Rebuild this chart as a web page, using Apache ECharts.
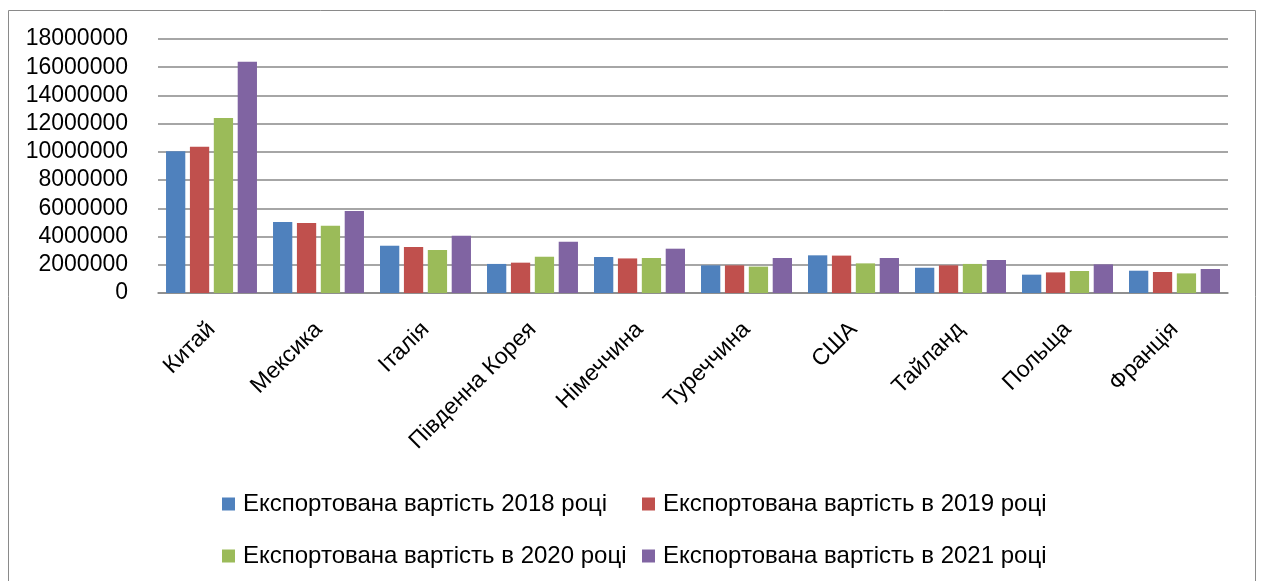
<!DOCTYPE html>
<html>
<head>
<meta charset="utf-8">
<script src="https://cdn.jsdelivr.net/npm/echarts@6/dist/echarts.min.js"></script>
<style>
html,body{margin:0;padding:0;background:#fff;}
#chart{width:1261px;height:581px;}
</style>
</head>
<body>
<div id="chart"></div>
<script>
const categories = ['Китай','Мексика','Італія','Південна Корея','Німеччина','Туреччина','США','Тайланд','Польща','Франція'];
const seriesNames = ['Експортована вартість 2018 році','Експортована вартість в 2019 році','Експортована вартість в 2020 році','Експортована вартість в 2021 році'];
const v2018 = [10050000, 5030000, 3350000, 2060000, 2550000, 1960000, 2670000, 1790000, 1300000, 1580000];
const v2019 = [10370000, 4960000, 3260000, 2150000, 2450000, 1960000, 2650000, 1960000, 1460000, 1490000];
const v2020 = [12410000, 4770000, 3050000, 2570000, 2480000, 1870000, 2100000, 2060000, 1560000, 1390000];
const v2021 = [16380000, 5810000, 4060000, 3640000, 3140000, 2480000, 2480000, 2340000, 2030000, 1700000];
const yTicks = {min: 0, max: 18000000, interval: 2000000};
const colors = ['#4F81BD','#C0504D','#9BBB59','#8064A2'];
const values = [v2018, v2019, v2020, v2021];

const chart = echarts.init(document.getElementById('chart'), null, {renderer:'canvas'});
const legendText = {fontFamily:'"Liberation Sans",sans-serif', fontSize:24, color:'#000', lineHeight:28, padding:[0,0,0,3]};
chart.setOption({
  animation:false,
  backgroundColor:'#fff',
  color: colors,
  graphic:[{type:'rect', shape:{x:8.5,y:10.5,width:1247,height:600}, style:{fill:'none', stroke:'#8a8a8a', lineWidth:1}}],
  grid:{left:158, right:33, top:39, bottom:288, containLabel:false},
  legend:[
    {data:[seriesNames[0], seriesNames[2]], orient:'vertical', left:217, top:485, padding:5, itemGap:24, itemWidth:13, itemHeight:13, icon:'rect', textStyle:legendText},
    {data:[seriesNames[1], seriesNames[3]], orient:'vertical', left:637, top:485, padding:5, itemGap:24, itemWidth:13, itemHeight:13, icon:'rect', textStyle:legendText}
  ],
  xAxis:{type:'category', data:categories,
    axisLine:{lineStyle:{color:'#888', width:1.5}}, axisTick:{show:false},
    axisLabel:{rotate:45, margin:33, interval:0, color:'#000', fontSize:23, fontFamily:'"Liberation Sans",sans-serif'}},
  yAxis:{type:'value', min:yTicks.min, max:yTicks.max, interval:yTicks.interval,
    axisLine:{show:false}, axisTick:{show:false},
    splitLine:{lineStyle:{color:'#888', width:1.5}},
    axisLabel:{margin:30, color:'#000', fontSize:23, fontFamily:'"Liberation Sans",sans-serif', formatter:(v)=>String(v)}},
  series: values.map((d,i)=>({name:seriesNames[i], type:'bar', data:d, barGap:'24%', barCategoryGap:'15%', itemStyle:{color:colors[i]}}))
});
</script>
</body>
</html>
